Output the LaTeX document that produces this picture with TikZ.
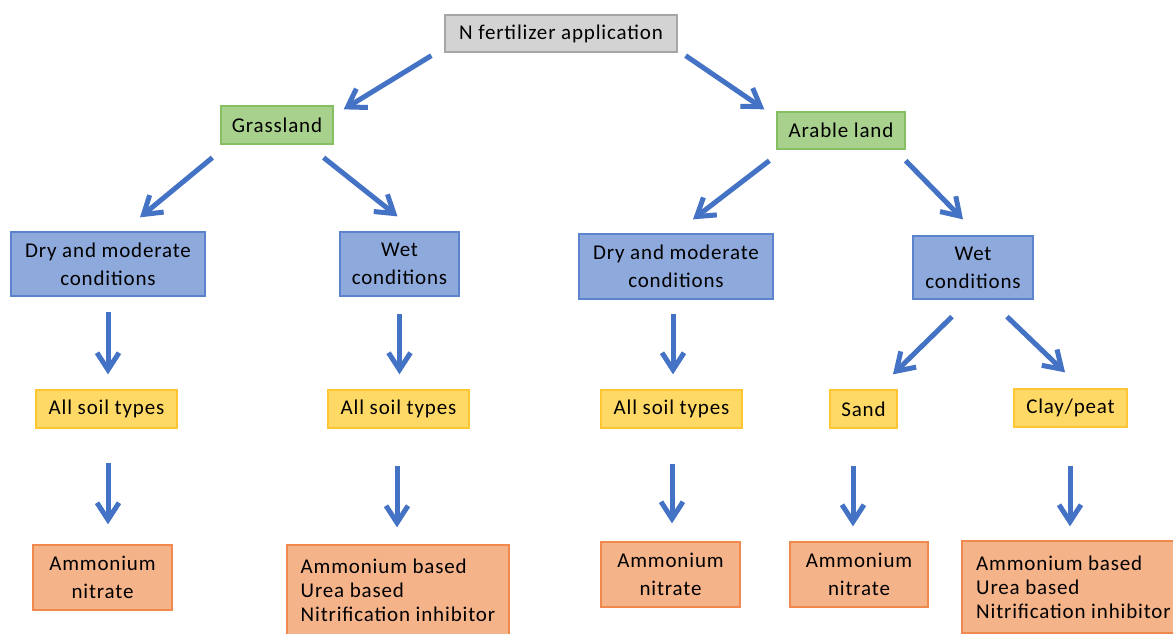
\documentclass[tikz,border=0pt]{standalone}
\usepackage{fontspec}
\setmainfont{Carlito}[LetterSpace=4]
\usetikzlibrary{arrows.meta,calc}
\definecolor{arrowblue}{HTML}{4472C4}
\definecolor{grayfill}{HTML}{D3D3D3}
\definecolor{graydraw}{HTML}{A6A6A6}
\definecolor{greenfill}{HTML}{A9D18E}
\definecolor{greendraw}{HTML}{86BE62}
\definecolor{bluefill}{HTML}{8EA9DB}
\definecolor{bluedraw}{HTML}{5B84CC}
\definecolor{yellowfill}{HTML}{FFD966}
\definecolor{yellowdraw}{HTML}{FFC533}
\definecolor{orangefill}{HTML}{F5B38A}
\definecolor{orangedraw}{HTML}{F0894D}
\begin{document}
\begin{tikzpicture}[x=1pt,y=-1pt,
  box/.style={line width=1.3pt, inner sep=0pt, font=\fontsize{21}{24}\selectfont, align=center, text=black},
  twoline/.style={font=\fontsize{21}{28}\selectfont},
  graybox/.style={box, fill=grayfill, draw=graydraw},
  greenbox/.style={box, fill=greenfill, draw=greendraw},
  bluebox/.style={box, fill=bluefill, draw=bluedraw},
  yellowbox/.style={box, fill=yellowfill, draw=yellowdraw},
  orangebox/.style={box, fill=orangefill, draw=orangedraw},
  arr/.style={draw=arrowblue, line width=5pt, -{Straight Barb[length=17pt,width=22pt]}}]
\useasboundingbox (0,0) rectangle (1173,633);
\clip (0,0) rectangle (1173,633);

\node[graybox, minimum width=232pt, minimum height=37pt] (top) at (561,33.5) {N fertilizer application};

\node[greenbox, minimum width=112pt, minimum height=38pt] (gl) at (277,125) {Grassland};
\node[greenbox, minimum width=128pt, minimum height=37pt] (al) at (841,130.5) {Arable land};

\node[bluebox, twoline, minimum width=194pt, minimum height=64pt] (d1) at (108,264) {Dry and moderate\\conditions};
\node[bluebox, twoline, minimum width=119pt, minimum height=64pt] (w1) at (399.5,264) {Wet\\conditions};
\node[bluebox, twoline, minimum width=194pt, minimum height=65pt] (d2) at (676,266.5) {Dry and moderate\\conditions};
\node[bluebox, twoline, minimum width=120pt, minimum height=63pt] (w2) at (973,267.5) {Wet\\conditions};

\node[yellowbox, minimum width=141pt, minimum height=38pt] (s1) at (106.5,409) {All soil types};
\node[yellowbox, minimum width=141pt, minimum height=38pt] (s2) at (398.5,409) {All soil types};
\node[yellowbox, minimum width=141pt, minimum height=38pt] (s3) at (671.5,409) {All soil types};
\node[yellowbox, minimum width=67pt, minimum height=38pt] (sand) at (863.5,409) {Sand};
\node[yellowbox, minimum width=113pt, minimum height=38pt] (clay) at (1070.5,408) {Clay/peat};

\node[orangebox, twoline, minimum width=139pt, minimum height=65pt] (f1) at (102.5,577.5) {Ammonium\\nitrate};
\node[orangebox, minimum width=222pt, minimum height=90pt, align=left] (f2) at (398,590) {Ammonium based\\Urea based\\Nitrification inhibitor};
\node[orangebox, twoline, minimum width=139pt, minimum height=65pt] (f3) at (670.5,574.5) {Ammonium\\nitrate};
\node[orangebox, twoline, minimum width=138pt, minimum height=65pt] (f4) at (859,574.5) {Ammonium\\nitrate};
\node[orangebox, minimum width=223pt, minimum height=92pt, align=left] (f5) at (1073.5,587) {Ammonium based\\Urea based\\Nitrification inhibitor};

\draw[arr] ($(top.south west)+(-13,3)$) -- ($(gl.north east)+(10,4)$);
\draw[arr] ($(top.south east)+(8,3)$) -- ($(al.north west)+(-12,-2)$);
\draw[arr] ($(gl.south west)+(-8,13)$) -- ($(d1.north)+(32,-14)$);
\draw[arr] ($(gl.south east)+(-10,13)$) -- ($(w1.north)+(-2,-15)$);
\draw[arr] ($(al.south west)+(-7,11)$) -- ($(d2.north)+(17,-14)$);
\draw[arr] ($(al.south east)+(0,11)$) -- ($(w2.north)+(-10,-16)$);
\draw[arr] ($(d1.south)+(0,15)$) -- ($(d1.south|-s1.north)+(0,-15)$);
\draw[arr] ($(w1.south)+(0,17)$) -- ($(w1.south|-s2.north)+(0,-15)$);
\draw[arr] ($(d2.south)+(-3,14)$) -- ($(d2.south|-s3.north)+(-3,-15)$);
\draw[arr] ($(w2.south)+(-21,17)$) -- ($(sand.north)+(29.5,-15)$);
\draw[arr] ($(w2.south)+(34,17)$) -- ($(clay.north)+(-5.5,-16)$);
\draw[arr] ($(s1.south)+(1.5,34)$) -- ($(s1.south|-f1.north)+(1.5,-20)$);
\draw[arr] ($(s2.south)+(-1.5,37)$) -- ($(s2.south|-f2.north)+(-1.5,-17)$);
\draw[arr] ($(s3.south)+(0.5,35)$) -- ($(s3.south|-f3.north)+(0.5,-18)$);
\draw[arr] ($(sand.south)+(-10.5,37)$) -- ($(sand.south|-f4.north)+(-10.5,-15)$);
\draw[arr] ($(clay.south)+(-0.5,38)$) -- ($(clay.south|-f5.north)+(-0.5,-14)$);
\end{tikzpicture}
\end{document}
